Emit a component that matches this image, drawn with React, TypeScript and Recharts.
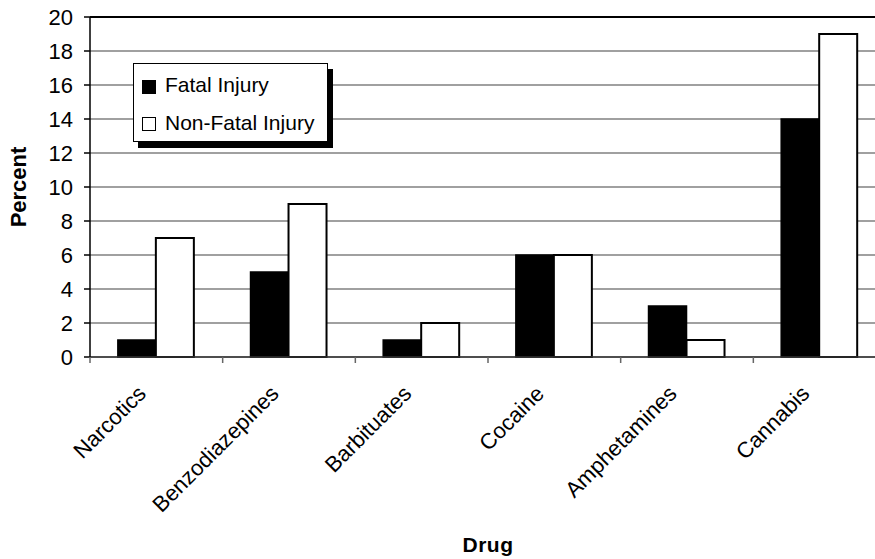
import React from "react";
import {
  BarChart,
  Bar,
  XAxis,
  YAxis,
  CartesianGrid,
  Label,
  ReferenceLine,
} from "recharts";

const categories = [
  "Narcotics",
  "Benzodiazepines",
  "Barbituates",
  "Cocaine",
  "Amphetamines",
  "Cannabis",
];
const fatalInjury = [1, 5, 1, 6, 3, 14];
const nonFatalInjury = [7, 9, 2, 6, 1, 19];
const yTicks = [0, 2, 4, 6, 8, 10, 12, 14, 16, 18, 20];
const seriesNames = ["Fatal Injury", "Non-Fatal Injury"];

const data = categories.map((c, i) => ({
  drug: c,
  fatal: fatalInjury[i],
  nonFatal: nonFatalInjury[i],
}));

const FONT = "'Liberation Sans', Arial, sans-serif";

const XTick = (props: any) => {
  const { x, y, payload } = props;
  const half = payload && payload.offset ? payload.offset : 66.3;
  const px = x - 9;
  const py = y + 38;
  return (
    <g>
      <line x1={x - half} y1={y} x2={x - half} y2={y + 6} stroke="#666" strokeWidth={1.5} />
      <text
        x={px}
        y={py}
        textAnchor="end"
        fontFamily={FONT}
        fontSize={22}
        fill="#000"
        transform={`rotate(-45, ${px}, ${py})`}
      >
        {payload.value}
      </text>
    </g>
  );
};

const LegendBox = () => (
  <div
    style={{
      position: "absolute",
      left: 133,
      top: 63,
      width: 193,
      height: 77,
      border: "1px solid #000",
      background: "#fff",
      boxShadow: "5px 6px 0 #000",
      fontFamily: FONT,
      fontSize: 21,
      color: "#000",
    }}
  >
    <div style={{ position: "absolute", left: 8, top: 16, width: 12, height: 12, background: "#000", border: "1px solid #000" }} />
    <div style={{ position: "absolute", left: 31, top: 10, lineHeight: "22px", whiteSpace: "nowrap" }}>{seriesNames[0]}</div>
    <div style={{ position: "absolute", left: 8, top: 53, width: 12, height: 12, background: "#fff", border: "1px solid #000" }} />
    <div style={{ position: "absolute", left: 31, top: 48, lineHeight: "22px", whiteSpace: "nowrap" }}>{seriesNames[1]}</div>
  </div>
);

export default function App() {
  return (
    <div
      style={{
        position: "absolute",
        left: 0,
        top: 0,
        width: 875,
        height: 559,
        overflow: "hidden",
        background: "#fff",
      }}
    >
      <BarChart
        width={900}
        height={559}
        data={data}
        margin={{ top: 17, right: 14, bottom: 0, left: 0 }}
        barCategoryGap="21%"
        barGap={0}
      >
        <CartesianGrid horizontal vertical={false} stroke="#808080" strokeWidth={1.5} />
        <ReferenceLine y={20} stroke="#000" strokeWidth={2} />
        <XAxis
          dataKey="drug"
          height={202}
          interval={0}
          tickSize={0}
          tickMargin={0}
          tickLine={false}
          axisLine={{ stroke: "#333", strokeWidth: 1.5 }}
          tick={<XTick />}
        >
          <Label
            content={(p: any) => {
              const vb = p.viewBox;
              return (
                <text
                  x={vb.x + vb.width / 2}
                  y={552}
                  textAnchor="middle"
                  fontFamily={FONT}
                  fontSize={21}
                  fontWeight="bold"
                  letterSpacing={0.5}
                  fill="#000"
                >
                  Drug
                </text>
              );
            }}
          />
        </XAxis>
        <YAxis
          width={90}
          domain={[0, 20]}
          ticks={yTicks}
          interval={0}
          tickSize={6}
          tickMargin={11}
          axisLine={{ stroke: "#000", strokeWidth: 1.5 }}
          tickLine={{ stroke: "#000", strokeWidth: 1.5 }}
          tick={{ fontFamily: FONT, fontSize: 22, fill: "#000" }}
        >
          <Label
            content={(p: any) => {
              const vb = p.viewBox;
              const cx = 26;
              const cy = vb.y + vb.height / 2;
              return (
                <text
                  x={cx}
                  y={cy}
                  textAnchor="middle"
                  fontFamily={FONT}
                  fontSize={22}
                  fontWeight="bold"
                  fill="#000"
                  transform={`rotate(-90, ${cx}, ${cy})`}
                >
                  Percent
                </text>
              );
            }}
          />
        </YAxis>
        <Bar dataKey="fatal" name={seriesNames[0]} fill="#000" stroke="#000" strokeWidth={1.5} isAnimationActive={false} />
        <Bar dataKey="nonFatal" name={seriesNames[1]} fill="#fff" stroke="#000" strokeWidth={2} isAnimationActive={false} />
      </BarChart>
      <LegendBox />
    </div>
  );
}
